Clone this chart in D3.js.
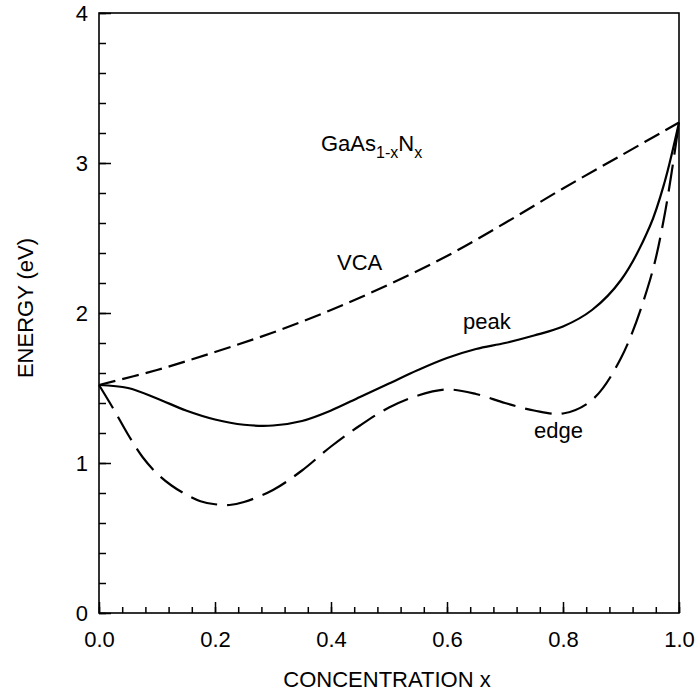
<!DOCTYPE html>
<html>
<head>
<meta charset="utf-8">
<script src="https://cdn.jsdelivr.net/npm/d3@7"></script>
<style>
  body { margin: 0; background: #fff; }
  text { font-family: "Liberation Sans", Arial, Helvetica, sans-serif; fill: #000; }
</style>
</head>
<body>
<div id="chart"></div>
<script>
// concentration x and energies (eV)
var xVca = [0, 0.1, 0.2, 0.3, 0.4, 0.5, 0.6, 0.7, 0.8, 0.9, 1.0];
var eVca = [1.52, 1.62, 1.74, 1.87, 2.02, 2.19, 2.38, 2.60, 2.83, 3.05, 3.27];

var xPeak = [0, 0.05, 0.1, 0.15, 0.2, 0.25, 0.3, 0.35, 0.4, 0.45, 0.5, 0.55, 0.6, 0.65, 0.7, 0.75, 0.8, 0.85, 0.9, 0.95, 0.975, 1.0];
var ePeak = [1.52, 1.50, 1.43, 1.35, 1.29, 1.255, 1.25, 1.28, 1.35, 1.44, 1.53, 1.62, 1.70, 1.76, 1.80, 1.85, 1.91, 2.02, 2.22, 2.58, 2.87, 3.27];

var xEdge = [0, 0.025, 0.05, 0.075, 0.1, 0.125, 0.15, 0.175, 0.2, 0.225, 0.25, 0.3, 0.35, 0.4, 0.45, 0.5, 0.55, 0.6, 0.65, 0.7, 0.75, 0.8, 0.85, 0.9, 0.95, 0.975, 1.0];
var eEdge = [1.52, 1.36, 1.19, 1.04, 0.93, 0.85, 0.79, 0.745, 0.725, 0.72, 0.74, 0.82, 0.95, 1.11, 1.25, 1.37, 1.45, 1.49, 1.46, 1.40, 1.35, 1.33, 1.42, 1.70, 2.22, 2.65, 3.27];

var xTicks = [0, 0.2, 0.4, 0.6, 0.8, 1.0];
var yTicks = [0, 1, 2, 3, 4];

var width = 696, height = 692;
var fontSize = "22px";

var svg = d3.select("#chart").append("svg")
    .attr("width", width)
    .attr("height", height);

var x = d3.scaleLinear().domain([0, 1]).range([99, 679]);
var y = d3.scaleLinear().domain([0, 4]).range([613, 13]);

// minor ticks
svg.append("g")
    .attr("transform", "translate(0," + y(0) + ")")
    .call(d3.axisBottom(x).tickValues(d3.range(0, 1.0001, 0.04)).tickSizeInner(-6).tickSizeOuter(0).tickFormat(""));
svg.append("g")
    .attr("transform", "translate(" + x(0) + ",0)")
    .call(d3.axisLeft(y).tickValues(d3.range(0, 4.0001, 0.2)).tickSizeInner(-7).tickSizeOuter(0).tickFormat(""));

// major ticks with labels
svg.append("g")
    .attr("transform", "translate(0," + y(0) + ")")
    .call(d3.axisBottom(x).tickValues(xTicks).tickSizeInner(-11).tickSizeOuter(0).tickPadding(18).tickFormat(d3.format(".1f")));
svg.append("g")
    .attr("transform", "translate(" + x(0) + ",0)")
    .call(d3.axisLeft(y).tickValues(yTicks).tickSizeInner(-12).tickSizeOuter(0).tickPadding(11).tickFormat(d3.format("d")));

svg.selectAll(".domain").remove();
svg.selectAll(".tick line").attr("stroke", "#000").attr("stroke-width", 1.5);
svg.selectAll(".tick text")
    .style("font-family", '"Liberation Sans", Arial, sans-serif')
    .style("font-size", fontSize)
    .attr("fill", "#000");

// frame
svg.append("rect")
    .attr("x", x(0)).attr("y", y(4))
    .attr("width", x(1) - x(0)).attr("height", y(0) - y(4))
    .attr("fill", "none").attr("stroke", "#000").attr("stroke-width", 1.6);

// curves
var line = d3.line().curve(d3.curveCatmullRom.alpha(0.5))
    .x(function(d) { return x(d[0]); })
    .y(function(d) { return y(d[1]); });

function pairs(xs, es) { return xs.map(function(v, i) { return [v, es[i]]; }); }

svg.append("path").datum(pairs(xVca, eVca))
    .attr("d", line).attr("fill", "none").attr("stroke", "#000")
    .attr("stroke-width", 2.2).attr("stroke-dasharray", "17,7");
svg.append("path").datum(pairs(xPeak, ePeak))
    .attr("d", line).attr("fill", "none").attr("stroke", "#000")
    .attr("stroke-width", 2.2);
svg.append("path").datum(pairs(xEdge, eEdge))
    .attr("d", line).attr("fill", "none").attr("stroke", "#000")
    .attr("stroke-width", 2.2).attr("stroke-dasharray", "27,10");

// axis titles
svg.append("text")
    .attr("x", 387).attr("y", 687)
    .attr("text-anchor", "middle")
    .style("font-size", fontSize)
    .text("CONCENTRATION x");
svg.append("text")
    .attr("transform", "translate(33,308) rotate(-90)")
    .attr("text-anchor", "middle")
    .style("font-size", fontSize)
    .text("ENERGY (eV)");

// annotations
var t = svg.append("text").attr("x", 321).attr("y", 151).style("font-size", fontSize);
t.append("tspan").text("GaAs");
t.append("tspan").attr("dy", 7).style("font-size", "16px").text("1-x");
t.append("tspan").attr("dy", -7).text("N");
t.append("tspan").attr("dy", 7).style("font-size", "16px").text("x");

svg.append("text").attr("x", 337).attr("y", 270).style("font-size", fontSize).text("VCA");
svg.append("text").attr("x", 463).attr("y", 329).style("font-size", fontSize).text("peak");
svg.append("text").attr("x", 534).attr("y", 438).style("font-size", fontSize).text("edge");
</script>
</body>
</html>
